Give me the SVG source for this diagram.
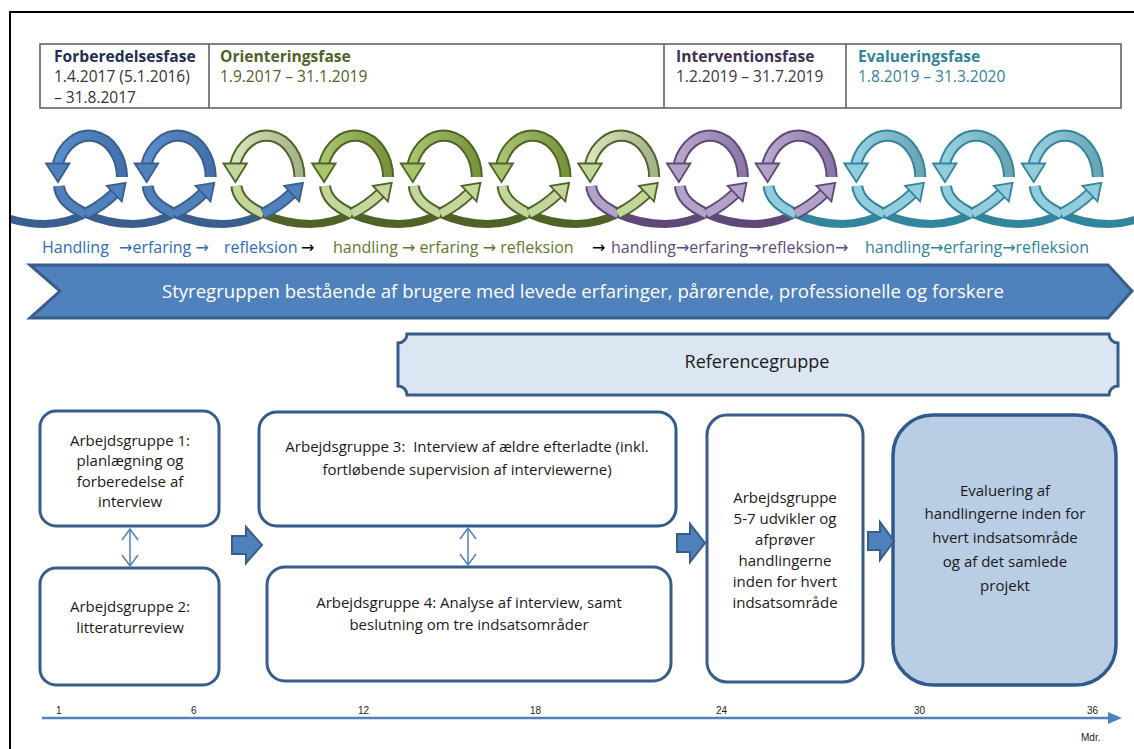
<svg xmlns="http://www.w3.org/2000/svg" xmlns:xlink="http://www.w3.org/1999/xlink" width="1134" height="749" viewBox="0 0 1134 749">
<style>
text{font-family:"Open Sans","DejaVu Sans",sans-serif}
.hd{font-size:15.6px;font-weight:bold}
.dt{font-size:15.5px}
.cyc{font-size:16px}
.bx{fill:#fff;stroke:#385d8a;stroke-width:3}
.bt{font-size:15px;fill:#1a1a1a;text-anchor:middle}
.blk{fill:#4f81bd;stroke:#385d8a;stroke-width:2;stroke-linejoin:miter}
.dbl{fill:none;stroke:#4f81bd;stroke-width:1.5}
.ax{font-family:"Liberation Sans",sans-serif;font-size:10px;fill:#222}
.o{fill:none;stroke-width:12;stroke-linejoin:round}
.i{fill:none;stroke-width:8;stroke-linejoin:round}
.m{fill:none;stroke-width:8;stroke-linejoin:round}
.h{stroke-width:1.8;stroke-linejoin:miter}
.sb{stroke:#3a5f8f}.sg{stroke:#4f6228}.sp{stroke:#5f497a}.st{stroke:#31859c}
.lb{stroke:#4f81bd}.lg{stroke:#c3d69b}.lp{stroke:#b3a2c7}.lt{stroke:#93cddd}
.gb{stroke:url(#gb)}.gg{stroke:url(#gg)}.gg1{stroke:url(#gg1)}.gp{stroke:url(#gp)}.gt{stroke:url(#gt)}
.hb{fill:#4f81bd;stroke:#3a5f8f}.hg{fill:#c3d69b;stroke:#4f6228}.hgd{fill:#a9c46c;stroke:#4f6228}.hp{fill:#b3a2c7;stroke:#5f497a}.ht{fill:#93cddd;stroke:#31859c}
</style>
<defs>
<linearGradient id="gb" x1="0" y1="0" x2="1" y2="0"><stop offset="0" stop-color="#5a8dcc"/><stop offset="1" stop-color="#4271aa"/></linearGradient>
<linearGradient id="gg" x1="0" y1="0" x2="1" y2="0"><stop offset="0" stop-color="#a9c46c"/><stop offset="1" stop-color="#77933c"/></linearGradient>
<linearGradient id="gg1" x1="0" y1="0" x2="1" y2="0"><stop offset="0" stop-color="#d7e4bd"/><stop offset="1" stop-color="#a3b38a"/></linearGradient>
<linearGradient id="gp" x1="0" y1="0" x2="1" y2="0"><stop offset="0" stop-color="#b8a8cc"/><stop offset="1" stop-color="#8a77a6"/></linearGradient>
<linearGradient id="gt" x1="0" y1="0" x2="1" y2="0"><stop offset="0" stop-color="#98d0df"/><stop offset="1" stop-color="#6aa5b6"/></linearGradient>
<clipPath id="clipCoil"><rect x="11" y="100" width="1123" height="160"/></clipPath>
<path id="ua" d="M33,177 A33,42 0 0 0 -31.2,164"/>
<polygon id="lh" points="-43,163.5 -19.5,163.5 -31,182"/>
<path id="dm" d="M-30,186 C-28,210 15,224 44,224 C75,224 100.2,206.8 114.6,193"/>
<path id="ds" d="M-30,186 C-29,198 -17.75,207.5 -3.125,214"/>
<path id="dr" d="M85.5,213.7 C97.5,207.65 107.4,199.9 114.6,193"/>
<polygon id="rh" points="121.5,201.5 106.5,185.8 125.3,182.8"/>
</defs>

<rect x="0" y="0" width="1134" height="749" fill="#fff"/>
<path d="M10,749 V12 H1134" fill="none" stroke="#000" stroke-width="2"/>

<g id="phase-table">
<rect x="40" y="44" width="1081" height="64" fill="#fff" stroke="#595959" stroke-width="1.5"/>
<line x1="209" y1="44" x2="209" y2="108" stroke="#595959" stroke-width="1.5"/>
<line x1="664" y1="44" x2="664" y2="108" stroke="#595959" stroke-width="1.5"/>
<line x1="846" y1="44" x2="846" y2="108" stroke="#595959" stroke-width="1.5"/>
<text class="hd" x="54" y="62" fill="#1f3050">Forberedelsesfase</text>
<text class="dt" x="54" y="82" fill="#333">1.4.2017 (5.1.2016)</text>
<text class="dt" x="54" y="103" fill="#333">– 31.8.2017</text>
<text class="hd" x="220" y="62" fill="#4f6228">Orienteringsfase</text>
<text class="dt" x="220" y="82" fill="#4f6228">1.9.2017 – 31.1.2019</text>
<text class="hd" x="676" y="62" fill="#3f3151">Interventionsfase</text>
<text class="dt" x="676" y="82" fill="#3f3151">1.2.2019 – 31.7.2019</text>
<text class="hd" x="858" y="62" fill="#31849b">Evalueringsfase</text>
<text class="dt" x="858" y="82" fill="#31849b">1.8.2019 – 31.3.2020</text>
</g>

<g id="cycle-coil" clip-path="url(#clipCoil)">
<g id="coil-bottom">
<use href="#dm" x="0.3" class="m sb"/>
<use href="#dm" x="89" class="m sb"/>
<use href="#dm" x="177.7" class="m sb"/>
<use href="#dm" x="266.4" class="m sg"/>
<use href="#dm" x="355.1" class="m sg"/>
<use href="#dm" x="443.8" class="m sg"/>
<use href="#dm" x="532.5" class="m sg"/>
<use href="#dm" x="621.2" class="m sp"/>
<use href="#dm" x="709.9" class="m sp"/>
<use href="#dm" x="798.6" class="m st"/>
<use href="#dm" x="887.3" class="m st"/>
<use href="#dm" x="976" class="m st"/>
<use href="#dm" x="1064.7" class="m st"/>
</g>
<g id="coil-start">
<use href="#ds" x="89" class="o sb"/><use href="#ds" x="89" class="i lb"/>
<use href="#ds" x="177.7" class="o sb"/><use href="#ds" x="177.7" class="i lb"/>
<use href="#ds" x="266.4" class="o sg"/><use href="#ds" x="266.4" class="i lg"/>
<use href="#ds" x="355.1" class="o sg"/><use href="#ds" x="355.1" class="i lg"/>
<use href="#ds" x="443.8" class="o sg"/><use href="#ds" x="443.8" class="i lg"/>
<use href="#ds" x="532.5" class="o sg"/><use href="#ds" x="532.5" class="i lg"/>
<use href="#ds" x="621.2" class="o sp"/><use href="#ds" x="621.2" class="i lp"/>
<use href="#ds" x="709.9" class="o sp"/><use href="#ds" x="709.9" class="i lp"/>
<use href="#ds" x="798.6" class="o st"/><use href="#ds" x="798.6" class="i lt"/>
<use href="#ds" x="887.3" class="o st"/><use href="#ds" x="887.3" class="i lt"/>
<use href="#ds" x="976" class="o st"/><use href="#ds" x="976" class="i lt"/>
<use href="#ds" x="1064.7" class="o st"/><use href="#ds" x="1064.7" class="i lt"/>
</g>
<g id="coil-rise">
<use href="#dr" x="0.3" class="o sb"/><use href="#dr" x="0.3" class="i lb"/><use href="#rh" x="0.3" class="h hb"/>
<use href="#dr" x="89" class="o sb"/><use href="#dr" x="89" class="i lb"/><use href="#rh" x="89" class="h hb"/>
<use href="#dr" x="177.7" class="o sb"/><use href="#dr" x="177.7" class="i lb"/><use href="#rh" x="177.7" class="h hb"/>
<use href="#dr" x="266.4" class="o sg"/><use href="#dr" x="266.4" class="i lg"/><use href="#rh" x="266.4" class="h hg"/>
<use href="#dr" x="355.1" class="o sg"/><use href="#dr" x="355.1" class="i lg"/><use href="#rh" x="355.1" class="h hg"/>
<use href="#dr" x="443.8" class="o sg"/><use href="#dr" x="443.8" class="i lg"/><use href="#rh" x="443.8" class="h hg"/>
<use href="#dr" x="532.5" class="o sg"/><use href="#dr" x="532.5" class="i lg"/><use href="#rh" x="532.5" class="h hg"/>
<use href="#dr" x="621.2" class="o sp"/><use href="#dr" x="621.2" class="i lp"/><use href="#rh" x="621.2" class="h hp"/>
<use href="#dr" x="709.9" class="o sp"/><use href="#dr" x="709.9" class="i lp"/><use href="#rh" x="709.9" class="h hp"/>
<use href="#dr" x="798.6" class="o st"/><use href="#dr" x="798.6" class="i lt"/><use href="#rh" x="798.6" class="h ht"/>
<use href="#dr" x="887.3" class="o st"/><use href="#dr" x="887.3" class="i lt"/><use href="#rh" x="887.3" class="h ht"/>
<use href="#dr" x="976" class="o st"/><use href="#dr" x="976" class="i lt"/><use href="#rh" x="976" class="h ht"/>
</g>
<g id="coil-top">
<use href="#ua" x="89" class="o sb"/><use href="#ua" x="89" class="i gb"/><use href="#lh" x="89" class="h hb"/>
<use href="#ua" x="177.7" class="o sb"/><use href="#ua" x="177.7" class="i gb"/><use href="#lh" x="177.7" class="h hb"/>
<use href="#ua" x="266.4" class="o sg"/><use href="#ua" x="266.4" class="i gg1"/><use href="#lh" x="266.4" class="h hg"/>
<use href="#ua" x="355.1" class="o sg"/><use href="#ua" x="355.1" class="i gg"/><use href="#lh" x="355.1" class="h hgd"/>
<use href="#ua" x="443.8" class="o sg"/><use href="#ua" x="443.8" class="i gg"/><use href="#lh" x="443.8" class="h hgd"/>
<use href="#ua" x="532.5" class="o sg"/><use href="#ua" x="532.5" class="i gg"/><use href="#lh" x="532.5" class="h hgd"/>
<use href="#ua" x="621.2" class="o sg"/><use href="#ua" x="621.2" class="i gg1"/><use href="#lh" x="621.2" class="h hg"/>
<use href="#ua" x="709.9" class="o sp"/><use href="#ua" x="709.9" class="i gp"/><use href="#lh" x="709.9" class="h hp"/>
<use href="#ua" x="798.6" class="o sp"/><use href="#ua" x="798.6" class="i gp"/><use href="#lh" x="798.6" class="h hp"/>
<use href="#ua" x="887.3" class="o st"/><use href="#ua" x="887.3" class="i gt"/><use href="#lh" x="887.3" class="h ht"/>
<use href="#ua" x="976" class="o st"/><use href="#ua" x="976" class="i gt"/><use href="#lh" x="976" class="h ht"/>
<use href="#ua" x="1064.7" class="o st"/><use href="#ua" x="1064.7" class="i gt"/><use href="#lh" x="1064.7" class="h ht"/>
</g>
</g>

<g id="cycle-labels">
<text class="cyc" y="253"><tspan x="42" fill="#2e6db4">Handling</tspan><tspan x="119" fill="#2e6db4">→erfaring →</tspan><tspan x="224" fill="#2e6db4">refleksion</tspan><tspan x="301" fill="#000">→</tspan><tspan x="333" fill="#5f7a2e">handling → erfaring → refleksion</tspan><tspan x="592" fill="#000">→</tspan><tspan x="611" fill="#5f497a">handling→erfaring→refleksion→</tspan><tspan x="865" fill="#31849b">handling→erfaring→refleksion</tspan></text>
</g>

<g id="styregruppe">
<polygon points="30,265 1108,265 1132,291 1108,318 30,318 60,291" fill="#4f81bd" stroke="#385d8a" stroke-width="3"/>
<text x="583" y="298" font-size="18.6" fill="#fff" text-anchor="middle">Styregruppen bestående af brugere med levede erfaringer, pårørende, professionelle og forskere</text>
</g>

<g id="referencegruppe">
<path d="M407,334 H1109 A9,9 0 0 0 1118,343 V386 A9,9 0 0 0 1109,395 H407 A9,9 0 0 0 398,386 V343 A9,9 0 0 0 407,334 Z" fill="#dce6f2" stroke="#385d8a" stroke-width="3"/>
<text x="757" y="368" font-size="18" fill="#1a1a1a" text-anchor="middle">Referencegruppe</text>
</g>

<g id="ag1">
<rect class="bx" x="40" y="411" width="179" height="115" rx="16"/>
<text class="bt" x="130" y="446">Arbejdsgruppe 1:</text>
<text class="bt" x="130" y="466">planlægning og</text>
<text class="bt" x="130" y="487">forberedelse af</text>
<text class="bt" x="130" y="507">interview</text>
</g>
<g id="ag2">
<rect class="bx" x="40" y="568" width="179" height="117" rx="16"/>
<text class="bt" x="130" y="612">Arbejdsgruppe 2:</text>
<text class="bt" x="130" y="633">litteraturreview</text>
</g>
<g id="ag3">
<rect class="bx" x="259" y="412" width="417" height="114" rx="18" style="stroke:#2f5a8a"/>
<text class="bt" x="467" y="452" xml:space="preserve">Arbejdsgruppe 3:  Interview af ældre efterladte (inkl.</text>
<text class="bt" x="467" y="475">fortløbende supervision af interviewerne)</text>
</g>
<g id="ag4">
<rect class="bx" x="267" y="567" width="404" height="114" rx="18"/>
<text class="bt" x="469" y="608">Arbejdsgruppe 4: Analyse af interview, samt</text>
<text class="bt" x="469" y="630">beslutning om tre indsatsområder</text>
</g>
<g id="ag5">
<rect class="bx" x="707" y="415" width="156" height="267" rx="20"/>
<text class="bt" x="785" y="503">Arbejdsgruppe</text>
<text class="bt" x="785" y="524">5-7 udvikler og</text>
<text class="bt" x="785" y="545">afprøver</text>
<text class="bt" x="785" y="566">handlingerne</text>
<text class="bt" x="785" y="587">inden for hvert</text>
<text class="bt" x="785" y="608">indsatsområde</text>
</g>
<g id="evaluering">
<rect x="893" y="415" width="223" height="270" rx="40" fill="#b9cde5" stroke="#2f5a8a" stroke-width="3.5"/>
<text class="bt" x="1005" y="496">Evaluering af</text>
<text class="bt" x="1005" y="519">handlingerne inden for</text>
<text class="bt" x="1005" y="543">hvert indsatsområde</text>
<text class="bt" x="1005" y="567">og af det samlede</text>
<text class="bt" x="1005" y="591">projekt</text>
</g>

<g id="connectors">
<line class="dbl" x1="130" y1="529" x2="130" y2="566"/>
<polyline class="dbl" points="122,540 130,529 138,540"/>
<polyline class="dbl" points="122,555 130,566 138,555"/>
<line class="dbl" x1="468" y1="528" x2="468" y2="565"/>
<polyline class="dbl" points="460,539 468,528 476,539"/>
<polyline class="dbl" points="460,554 468,565 476,554"/>
<polygon class="blk" points="232,536 246,536 246,527 262,545 246,563 246,554 232,554"/>
<polygon class="blk" points="677,534 690,534 690,524 705,543 690,562 690,552 677,552"/>
<polygon class="blk" points="868,532 880,532 880,522 894,541 880,560 880,550 868,550"/>
</g>

<g id="timeline">
<line x1="42" y1="718" x2="1110" y2="718" stroke="#4f81bd" stroke-width="2.5"/>
<polygon points="1108,712 1122,718 1108,724" fill="#4f81bd"/>
<text class="ax" x="56" y="714">1</text>
<text class="ax" x="191" y="714">6</text>
<text class="ax" x="358" y="714">12</text>
<text class="ax" x="530" y="714">18</text>
<text class="ax" x="716" y="714">24</text>
<text class="ax" x="914" y="714">30</text>
<text class="ax" x="1087" y="714">36</text>
<text class="ax" x="1081" y="741" font-size="9">Mdr.</text>
</g>
</svg>
